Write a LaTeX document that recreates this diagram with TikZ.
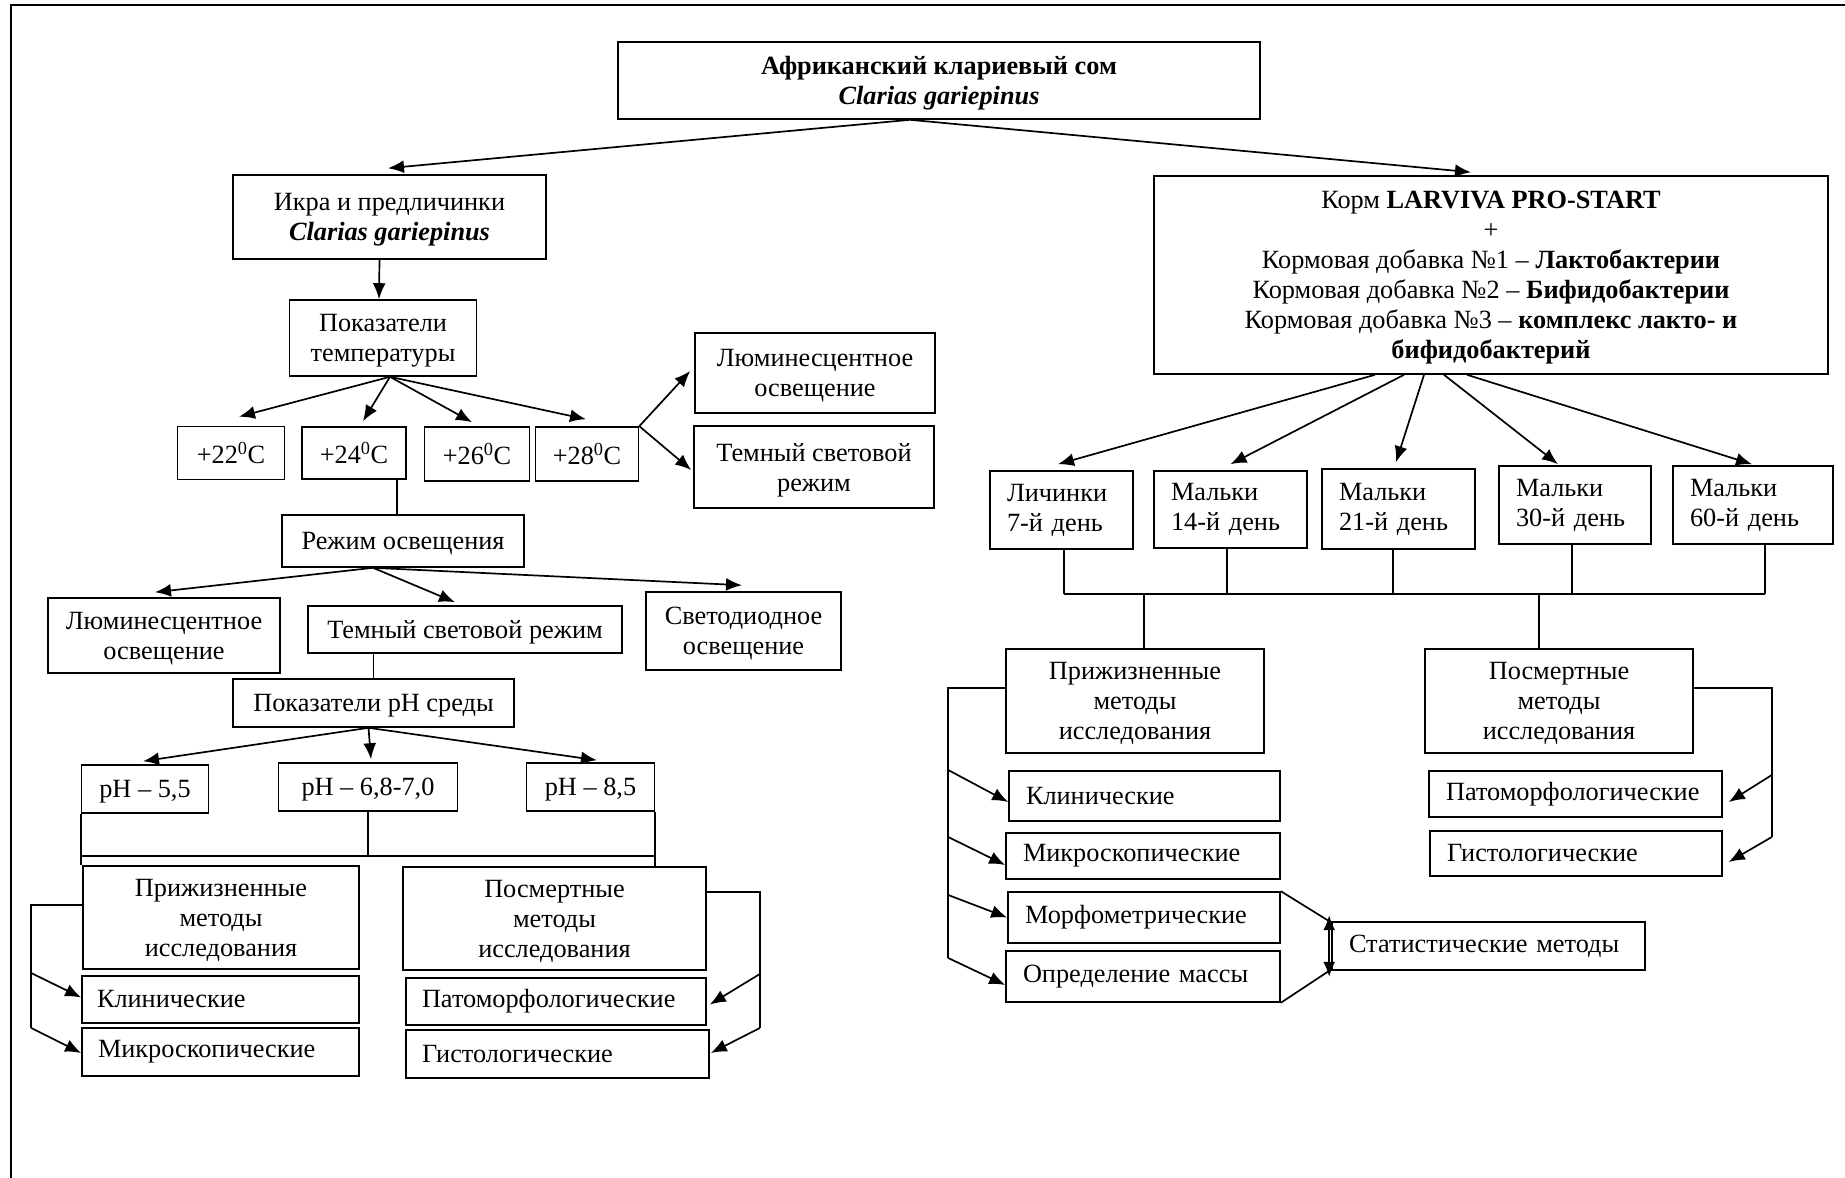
\documentclass[tikz,border=0pt]{standalone}
\usepackage{fontspec}
\setmainfont{Liberation Serif}
\usetikzlibrary{arrows.meta,calc}
\newcommand\myfs{\fontsize{26.3}{30}\selectfont}
\begin{document}
\begin{tikzpicture}[x=1pt,y=-1pt,
  box/.style={draw, line width=1.6pt, inner sep=0pt, align=center, font=\myfs, text depth=0pt},
  lbox/.style={draw, line width=1.6pt, inner xsep=17pt, inner ysep=0pt, align=left, font=\myfs},
  conn/.style={line width=1.7pt},
  arr/.style={conn, -{Latex[length=16pt,width=13pt]}},
  dbl/.style={conn, {Latex[length=15pt,width=12pt]}-{Latex[length=15pt,width=12pt]}}]
\useasboundingbox (0,0) rectangle (1845,1178);
\draw[line width=2.5pt] (11,1178) -- (11,5) -- (1845,5);

% ---------- left branch ----------
\node[box, minimum width=642pt, minimum height=77pt] (top) at (939,80.5)
  {\textbf{Африканский клариевый сом}\\\textbf{\textit{Clarias gariepinus}}};
\node[box, minimum width=313pt, minimum height=84pt] (ikra) at (389.5,217)
  {Икра и предличинки\\\textbf{\textit{Clarias gariepinus}}};
\node[box, minimum width=187pt, minimum height=76pt] (temp) at (383,338)
  {Показатели\\температуры};
\node[box, minimum width=107pt, minimum height=53pt] (t22) at (231,453) {+22\textsuperscript{0}C};
\node[box, minimum width=104pt, minimum height=52pt] (t24) at (354,453) {+24\textsuperscript{0}C};
\node[box, minimum width=105pt, minimum height=54pt] (t26) at (477,454) {+26\textsuperscript{0}C};
\node[box, minimum width=103pt, minimum height=54pt] (t28) at (587,454) {+28\textsuperscript{0}C};
\node[box, minimum width=240pt, minimum height=80pt] (lumR) at (815,373) {Люминесцентное\\освещение};
\node[box, minimum width=240pt, minimum height=82pt] (darkR) at (814,467) {Темный световой\\режим};
\node[box, minimum width=242pt, minimum height=52pt] (rezhim) at (403,541) {Режим освещения};
\node[box, minimum width=232pt, minimum height=75pt] (lumL) at (164,635.5) {Люминесцентное\\освещение};
\node[box, minimum width=314pt, minimum height=47pt] (darkM) at (465,629.5) {Темный световой режим};
\node[box, minimum width=195pt, minimum height=78pt] (ledL) at (743.5,631) {Светодиодное\\освещение};
\node[box, minimum width=281pt, minimum height=48pt] (phind) at (373.5,703) {Показатели pH среды};
\node[box, minimum width=127pt, minimum height=48pt] (ph55) at (145,789) {pH – 5,5};
\node[box, minimum width=179pt, minimum height=48pt] (ph68) at (368,787) {pH – 6,8-7,0};
\node[box, minimum width=128pt, minimum height=48pt] (ph85) at (590.5,787) {pH – 8,5};
\node[box, minimum width=276pt, minimum height=103pt] (prizhL) at (221,917.5) {Прижизненные\\методы\\исследования};
\node[box, minimum width=303pt, minimum height=103pt] (poslL) at (554.5,918.5) {Посмертные\\методы\\исследования};
\node[lbox, inner xsep=15pt, text width=247pt, minimum height=47pt] (klinL) at (220.5,999.5) {Клинические};
\node[lbox, inner xsep=16pt, text width=245pt, minimum height=48pt] (mikrL) at (220.5,1052) {Микроскопические};
\node[lbox, inner xsep=16pt, text width=268pt, minimum height=47pt] (patL) at (556,1001.5) {Патоморфологические};
\node[lbox, inner xsep=16pt, text width=271pt, minimum height=48pt] (gistL) at (557.5,1054) {Гистологические};

% ---------- right branch ----------
\node[box, minimum width=674pt, minimum height=198pt] (feed) at (1491,275)
  {Корм \textbf{LARVIVA PRO-START}\\+\\Кормовая добавка №1 – \textbf{Лактобактерии}\\Кормовая добавка №2 – \textbf{Бифидобактерии}\\Кормовая добавка №3 – \textbf{комплекс лакто- и}\\\textbf{бифидобактерий}};
\node[lbox, text width=109pt, minimum height=78pt] (lich) at (1061.5,510) {Личинки\\7-й день};
\node[lbox, text width=119pt, minimum height=77pt] (m14) at (1230.5,509.5) {Мальки\\14-й день};
\node[lbox, text width=119pt, minimum height=80pt] (m21) at (1398.5,509) {Мальки\\21-й день};
\node[lbox, text width=118pt, minimum height=78pt] (m30) at (1575,505) {Мальки\\30-й день};
\node[lbox, text width=126pt, minimum height=78pt] (m60) at (1753,505) {Мальки\\60-й день};
\node[box, minimum width=258pt, minimum height=104pt] (prizhR) at (1135,701) {Прижизненные\\методы\\исследования};
\node[box, minimum width=268pt, minimum height=104pt] (poslR) at (1559,701) {Посмертные\\методы\\исследования};
\node[lbox, text width=237pt, minimum height=50pt] (klinR) at (1144.5,796) {Клинические};
\node[lbox, text width=240pt, minimum height=46pt] (mikrR) at (1143,856) {Микроскопические};
\node[lbox, text width=238pt, minimum height=51pt] (morfR) at (1144,917.5) {Морфометрические};
\node[lbox, text width=240pt, minimum height=51pt] (opredR) at (1143,976.5) {Определение массы};
\node[lbox, text width=279pt, minimum height=48pt] (stat) at (1488.5,946) {Статистические методы};
\node[lbox, text width=259pt, minimum height=46pt] (patR) at (1575.5,794) {Патоморфологические};
\node[lbox, text width=258pt, minimum height=45pt] (gistR) at (1576,853.5) {Гистологические};

% ---------- connectors: left ----------
\coordinate (topo) at ($(top.south)+(-29,0)$);
\draw[arr] (topo) -- ($(ikra.north)+(-1.5,-6)$);
\draw[arr] (topo) -- ($(feed.north)+(-20,-3)$);
\draw[arr] ($(ikra.south)+(-10,0)$) -- ($(temp.north)+(-4,0)$);
\coordinate (tempo) at ($(temp.south)+(7,0)$);
\draw[arr] (tempo) -- ($(t22.north)+(8,-9)$);
\draw[arr] (tempo) -- ($(t24.north)+(9,-5)$);
\draw[arr] (tempo) -- ($(t26.north)+(-5,-4)$);
\draw[arr] (tempo) -- ($(t28.north)+(-1,-7)$);
\draw[arr] (t28.north east) -- ($(lumR.west)+(-4,-2)$);
\draw[arr] (t28.north east) -- ($(darkR.west)+(-2,3)$);
\coordinate (c24) at ($(t24.south east)+(-10,0)$);
\draw[conn] (c24) -- (c24 |- rezhim.north);
\coordinate (rezo) at ($(rezhim.south)+(-30,0)$);
\draw[arr] (rezo) -- ($(lumL.north)+(-9,-5)$);
\draw[arr] (rezo) -- ($(darkM.north)+(-10,-3)$);
\draw[arr] (rezo) -- ($(ledL.north)+(-1.5,-6)$);
\draw[conn] (phind.north) -- (phind.north |- darkM.south);
\coordinate (pho) at ($(phind.south)+(-5,0)$);
\draw[arr] (pho) -- ($(ph55.north)+(-2,-3)$);
\draw[arr] (pho) -- ($(ph68.north)+(3,-3)$);
\draw[arr] (pho) -- ($(ph85.north)+(6.5,-2)$);
\coordinate (phbar) at ($(ph68.south)+(0,44)$);
\draw[conn] (ph55.south west) -- (ph55.south west |- prizhL.north);
\draw[conn] (ph85.south east) -- (ph85.south east |- poslL.north);
\draw[conn] (ph68.south) -- (phbar);
\draw[conn] (ph55.south west |- phbar) -- (ph85.south east |- phbar);
\coordinate (lbA) at ($(prizhL.west)+(-51,-12.5)$);
\coordinate (lbB) at ($(lbA)+(0,68)$);
\coordinate (lbC) at ($(lbA)+(0,123)$);
\draw[conn] (prizhL.west |- lbA) -- (lbA) -- (lbC);
\draw[arr] (lbB) -- ($(klinL.west)+(0,-2)$);
\draw[arr] (lbC) -- ($(mikrL.west)+(0,1)$);
\coordinate (rbA) at ($(poslL.east)+(53,-26.5)$);
\coordinate (rbB) at ($(rbA)+(0,82)$);
\coordinate (rbC) at ($(rbA)+(0,136)$);
\draw[conn] (poslL.east |- rbA) -- (rbA) -- (rbC);
\draw[arr] (rbB) -- ($(patL.east)+(3,3)$);
\draw[arr] (rbC) -- ($(gistL.east)+(1,-1)$);

% ---------- connectors: right ----------
\coordinate (feedo) at (feed.south);
\draw[arr] ($(feedo)+(-116,0)$) -- ($(lich.north)+(-3.5,-6)$);
\draw[arr] ($(feedo)+(-87,0)$) -- ($(m14.north)+(0,-6)$);
\draw[arr] ($(feedo)+(-67,0)$) -- ($(m21.north)+(-2.5,-6)$);
\draw[arr] ($(feedo)+(-47,0)$) -- ($(m30.north)+(-17,-1)$);
\draw[arr] ($(feedo)+(-24,0)$) -- ($(m60.north)+(-1,-1)$);
\coordinate (dbar) at ($(lich.south)+(0,44)$);
\coordinate (d1) at ($(lich.south)+(2.5,0)$);
\coordinate (d2) at ($(m14.south)+(-3.5,0)$);
\coordinate (d3) at ($(m21.south)+(-5.5,0)$);
\coordinate (d4) at ($(m30.south)+(-3,0)$);
\coordinate (d5) at ($(m60.south)+(12,0)$);
\foreach \d in {d1,d2,d3,d4,d5} \draw[conn] (\d) -- (\d |- dbar);
\draw[conn] (d1 |- dbar) -- (d5 |- dbar);
\coordinate (dA) at ($(prizhR.north |- dbar)+(9,0)$);
\coordinate (dB) at ($(poslR.north |- dbar)+(-20,0)$);
\draw[conn] (dA) -- (dA |- prizhR.north);
\draw[conn] (dB) -- (dB |- poslR.north);
\coordinate (rA) at ($(prizhR.west)+(-57,-13)$);
\coordinate (rB) at ($(rA)+(0,82)$);
\coordinate (rC) at ($(rA)+(0,149)$);
\coordinate (rD) at ($(rA)+(0,207)$);
\coordinate (rE) at ($(rA)+(0,270)$);
\draw[conn] (prizhR.west |- rA) -- (rA) -- (rE);
\draw[arr] (rB) -- ($(klinR.west)+(0,6)$);
\draw[arr] (rC) -- ($(mikrR.west)+(0,9)$);
\draw[arr] (rD) -- (morfR.west);
\draw[arr] (rE) -- ($(opredR.west)+(0,8.5)$);
\coordinate (sA) at ($(stat.north west)+(-2,0)$);
\coordinate (sB) at ($(stat.south west)+(-2,0)$);
\draw[conn] (morfR.north east) -- (sA);
\draw[conn] (opredR.south east) -- (sB);
\draw[dbl] ($(sA)+(0,-6)$) -- ($(sB)+(0,6)$);
\coordinate (pA) at ($(poslR.east)+(78,-13)$);
\coordinate (pB) at ($(pA)+(0,87)$);
\coordinate (pC) at ($(pA)+(0,149)$);
\draw[conn] (poslR.east |- pA) -- (pA) -- (pC);
\draw[arr] (pB) -- ($(patR.east)+(6,8)$);
\draw[arr] (pC) -- ($(gistR.east)+(6,8.5)$);
\end{tikzpicture}
\end{document}
